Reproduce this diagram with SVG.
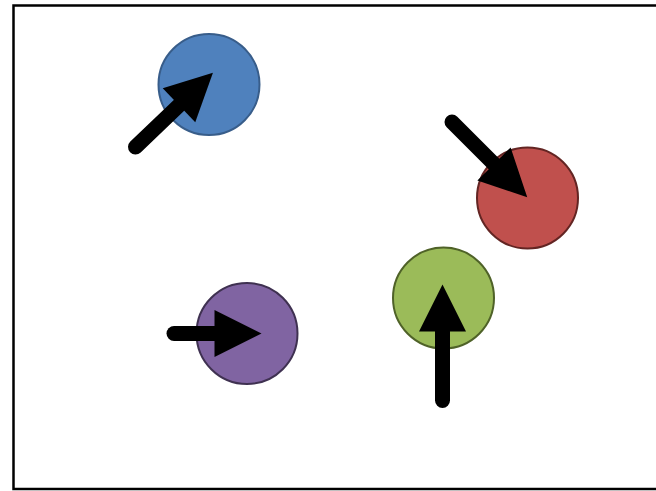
<svg xmlns="http://www.w3.org/2000/svg" width="656" height="491" viewBox="0 0 656 491">
<style>
.node{stroke-width:2}
.arrow{stroke:#000;stroke-width:15;stroke-linecap:round;fill:none;marker-end:url(#head)}
</style>
<defs>
<marker id="head" markerUnits="userSpaceOnUse" markerWidth="50" markerHeight="50" refX="0" refY="0" orient="auto" viewBox="0 -25 50 50" overflow="visible">
<path d="M0,-23.5 L47,0 L0,23.5 Z" fill="#000"/>
</marker>
</defs>
<rect x="0" y="0" width="656" height="491" fill="#fff"/>
<rect x="13.5" y="5.5" width="660" height="483.5" fill="#fff" stroke="#000" stroke-width="2.5"/>
<g id="blue"><circle class="node" cx="209" cy="84.5" r="50.5" fill="#4F81BD" stroke="#385D8A"/></g>
<g id="red"><circle class="node" cx="527.5" cy="198" r="50.5" fill="#C0504D" stroke="#632523"/></g>
<g id="purple"><circle class="node" cx="247" cy="333.5" r="50.5" fill="#8064A2" stroke="#3F3151"/></g>
<g id="green"><circle class="node" cx="443.5" cy="298" r="50.5" fill="#9BBB59" stroke="#4F6228"/></g>
<g id="connectors">
<line class="arrow" x1="135.5" y1="147" x2="179" y2="105.3"/>
<line class="arrow" x1="452" y1="122" x2="494" y2="164"/>
<line class="arrow" x1="174" y1="333.5" x2="214.5" y2="333.5"/>
<line class="arrow" x1="442.5" y1="400.5" x2="442.5" y2="331.5"/>
</g>
</svg>
